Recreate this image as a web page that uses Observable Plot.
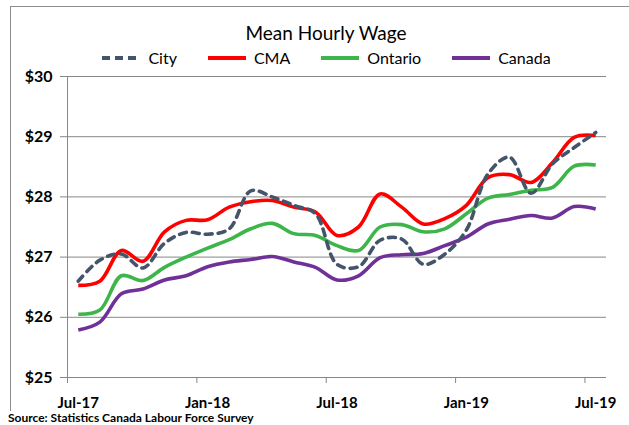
<!DOCTYPE html>
<html>
<head>
<meta charset="utf-8">
<script src="https://cdn.jsdelivr.net/npm/d3@7"></script>
<script src="https://cdn.jsdelivr.net/npm/@observablehq/plot@0.6"></script>
<style>
  html, body { margin: 0; padding: 0; background: #fff; }
  #wrap { position: relative; width: 629px; height: 425px; overflow: hidden; font-family: Lato, "Open Sans", sans-serif; color: #000; }
  #frame { position: absolute; left: 10px; top: 6px; width: 660px; height: 404px; border-left: 1px solid #8c8c8c; border-top: 1px solid #8c8c8c; }
  #title { position: absolute; left: 0; top: 22px; width: 652px; text-align: center; font-size: 19px; line-height: 22px; }
  #legend { position: absolute; left: 0; top: 48px; width: 652px; display: flex; justify-content: center; align-items: center; font-size: 16px; line-height: 20px; }
  .item { display: flex; align-items: center; margin: 0 15px; }
  .item svg { margin-right: 7px; }
  #chart { position: absolute; left: 0; top: 0; }
  #source { position: absolute; left: 8px; top: 410px; font-size: 12px; font-weight: bold; line-height: 15px; }
</style>
</head>
<body>
<div id="wrap">
  <div id="frame"></div>
  <div id="chart"></div>
  <div id="title">Mean Hourly Wage</div>
  <div id="legend"></div>
  <div id="source">Source: Statistics Canada Labour Force Survey</div>
</div>
<script>
// ---- data ----
const months = ["Jul-17","Aug-17","Sep-17","Oct-17","Nov-17","Dec-17","Jan-18","Feb-18","Mar-18","Apr-18","May-18","Jun-18",
                "Jul-18","Aug-18","Sep-18","Oct-18","Nov-18","Dec-18","Jan-19","Feb-19","Mar-19","Apr-19","May-19","Jun-19","Jul-19"];
const seriesNames = ["City", "CMA", "Ontario", "Canada"];
const city    = [26.60, 26.95, 27.05, 26.82, 27.23, 27.41, 27.38, 27.47, 28.10, 28.00, 27.86, 27.72, 26.88, 26.84, 27.28, 27.30, 26.88, 27.05, 27.45, 28.38, 28.66, 28.06, 28.55, 28.82, 29.07];
const cma     = [26.53, 26.60, 27.11, 26.93, 27.42, 27.61, 27.62, 27.83, 27.92, 27.94, 27.83, 27.75, 27.36, 27.50, 28.05, 27.83, 27.55, 27.64, 27.86, 28.32, 28.37, 28.24, 28.57, 28.99, 29.02];
const ontario = [26.05, 26.12, 26.69, 26.61, 26.83, 27.00, 27.15, 27.29, 27.47, 27.56, 27.39, 27.36, 27.19, 27.11, 27.50, 27.54, 27.42, 27.47, 27.72, 27.98, 28.04, 28.11, 28.16, 28.51, 28.53];
const canada  = [25.79, 25.92, 26.39, 26.47, 26.62, 26.69, 26.84, 26.92, 26.96, 27.01, 26.92, 26.83, 26.62, 26.69, 26.99, 27.04, 27.06, 27.19, 27.33, 27.55, 27.63, 27.69, 27.65, 27.84, 27.80];
const yTicks = [25, 26, 27, 28, 29, 30];
const xTickLabels = ["Jul-17", "Jan-18", "Jul-18", "Jan-19", "Jul-19"];

// ---- styles ----
const colors = {City: "#44546A", CMA: "#FF0000", Ontario: "#3DB54A", Canada: "#6F3198"};
const dashes = {City: "7,6", CMA: null, Ontario: null, Canada: null};
const valuesBySeries = {City: city, CMA: cma, Ontario: ontario, Canada: canada};

const labelIdx = xTickLabels.map(l => months.indexOf(l));
const tickIdx = labelIdx.map(i => i - 0.5);
const grid = "#878787";

const lines = seriesNames.slice().reverse().map(name => {
  const rows = months.map((m, i) => ({i, month: m, value: valuesBySeries[name][i]}));
  return Plot.line(rows, {x: "i", y: "value", stroke: colors[name], strokeWidth: 3.6,
    curve: "catmull-rom", strokeDasharray: dashes[name] || undefined, strokeLinecap: name === "City" ? "round" : "butt"});
});

const chart = Plot.plot({
  width: 629, height: 425,
  marginLeft: 67, marginRight: 23, marginTop: 76, marginBottom: 48,
  x: {domain: [-0.5, months.length - 0.5], axis: null},
  y: {domain: [25, 30], axis: null},
  style: {background: "transparent", fontFamily: "Lato, 'Open Sans', sans-serif", color: "#000", overflow: "visible"},
  marks: [
    Plot.ruleY(yTicks, {stroke: grid, strokeWidth: 1}),
    Plot.ruleX([-0.5], {stroke: grid, strokeWidth: 1}),
    Plot.axisY(yTicks, {label: null, tickSize: 7, tickPadding: 8, tickFormat: d => "$" + d, stroke: grid, fontSize: 16, fontWeight: "bold"}),
    Plot.axisX(tickIdx, {label: null, tickSize: 6, tickFormat: () => "", stroke: grid}),
    Plot.axisX(labelIdx, {label: null, tickSize: 0, tickPadding: 20, tickFormat: i => months[i], fontSize: 15, fontWeight: "bold"}),
    ...lines
  ]
});
document.getElementById("chart").appendChild(chart);

// legend
const legend = document.getElementById("legend");
seriesNames.forEach(name => {
  const item = document.createElement("div");
  item.className = "item";
  const dash = dashes[name] ? `stroke-dasharray="8,5"` : "";
  item.innerHTML = `<svg width="40" height="8"><line x1="1" y1="4" x2="39" y2="4" stroke="${colors[name]}" stroke-width="4" ${dash}/></svg><span>${name}</span>`;
  legend.appendChild(item);
});
</script>
</body>
</html>
